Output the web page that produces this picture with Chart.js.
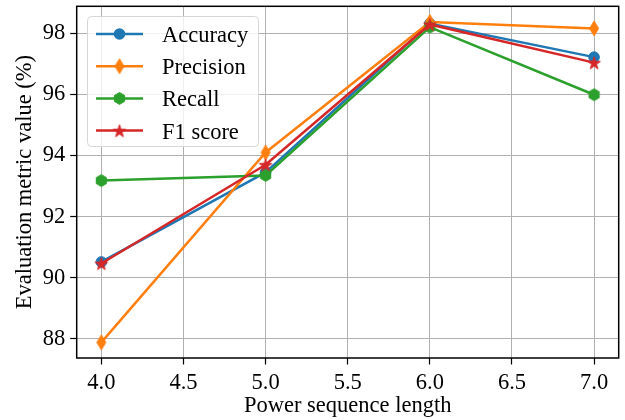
<!DOCTYPE html>
<html>
<head>
<meta charset="utf-8">
<script src="https://cdn.jsdelivr.net/npm/chart.js@4.4.0/dist/chart.umd.min.js"></script>
<style>
  html, body { margin: 0; padding: 0; background: #fff; }
  #wrap { width: 625px; height: 420px; }
</style>
</head>
<body>
<div id="wrap"><canvas id="metricsChart" width="625" height="420"></canvas></div>
<script>
const seqLengths = [4, 5, 6, 7];
const accuracy = [90.52, 93.45, 98.32, 97.22];
const precision = [87.89, 94.1, 98.37, 98.16];
const recall = [93.18, 93.35, 98.2, 95.99];
const f1Score = [90.47, 93.7, 98.29, 97.04];
const xTicks = [4.0, 4.5, 5.0, 5.5, 6.0, 6.5, 7.0];
const yTicks = [88, 90, 92, 94, 96, 98];

const FONT = "'Liberation Serif', 'Times New Roman', serif";
const FS = 22.5;

// matplotlib-like markers
function makeMarker(w, h, color, drawPath) {
  const c = document.createElement("canvas");
  c.width = w;
  c.height = h;
  const g = c.getContext("2d");
  g.fillStyle = color;
  g.strokeStyle = color;
  g.lineWidth = 1;
  g.beginPath();
  drawPath(g, w / 2, h / 2);
  g.closePath();
  g.fill();
  g.stroke();
  return c;
}

const thinDiamond = makeMarker(12, 17, "#ff7f0e", (g, cx, cy) => {
  g.moveTo(cx, cy - 7.4);
  g.lineTo(cx + 4.5, cy);
  g.lineTo(cx, cy + 7.4);
  g.lineTo(cx - 4.5, cy);
});

const hexagon = makeMarker(15, 15, "#2ca02c", (g, cx, cy) => {
  const r = 5.9;
  for (let i = 0; i < 6; i++) {
    const a = -Math.PI / 2 + i * Math.PI / 3;
    const px = cx + r * Math.cos(a);
    const py = cy + r * Math.sin(a);
    if (i === 0) g.moveTo(px, py); else g.lineTo(px, py);
  }
});

const filledStar = makeMarker(16, 16, "#d62728", (g, cx, cy) => {
  const ro = 6.6, ri = ro * 0.382;
  for (let i = 0; i < 10; i++) {
    const r = i % 2 === 0 ? ro : ri;
    const a = -Math.PI / 2 + i * Math.PI / 5;
    const px = cx + r * Math.cos(a);
    const py = cy + r * Math.sin(a) + 0.8;
    if (i === 0) g.moveTo(px, py); else g.lineTo(px, py);
  }
});

function toPoints(values) {
  return seqLengths.map((x, i) => ({ x: x, y: values[i] }));
}

const frameAndLegend = {
  id: "frameAndLegend",
  afterDatasetsDraw(chart) {
    const { ctx, chartArea } = chart;
    ctx.save();
    // axes frame (all four spines)
    ctx.strokeStyle = "#000";
    ctx.lineWidth = 1.5;
    ctx.strokeRect(chartArea.left, chartArea.top, chartArea.right - chartArea.left, chartArea.bottom - chartArea.top);

    // legend box, upper left inside the plot
    const bx = 87.5, by = 16.5, bw = 171, bh = 130, rad = 4;
    ctx.beginPath();
    ctx.moveTo(bx + rad, by);
    ctx.arcTo(bx + bw, by, bx + bw, by + bh, rad);
    ctx.arcTo(bx + bw, by + bh, bx, by + bh, rad);
    ctx.arcTo(bx, by + bh, bx, by, rad);
    ctx.arcTo(bx, by, bx + bw, by, rad);
    ctx.closePath();
    ctx.fillStyle = "rgba(255,255,255,0.8)";
    ctx.fill();
    ctx.strokeStyle = "#d6d6d6";
    ctx.lineWidth = 1;
    ctx.stroke();

    ctx.font = FS + "px " + FONT;
    ctx.textBaseline = "alphabetic";
    ctx.textAlign = "left";
    chart.data.datasets.forEach((ds, i) => {
      const y = 34 + i * 32.2;
      ctx.strokeStyle = ds.borderColor;
      ctx.lineWidth = ds.borderWidth;
      ctx.beginPath();
      ctx.moveTo(96, y);
      ctx.lineTo(143, y);
      ctx.stroke();
      if (ds.pointStyle === "circle") {
        ctx.fillStyle = ds.pointBackgroundColor;
        ctx.beginPath();
        ctx.arc(119.5, y, ds.pointRadius + 0.5, 0, Math.PI * 2);
        ctx.fill();
      } else {
        Chart.helpers.drawPoint(ctx, {
          pointStyle: ds.pointStyle,
          radius: ds.pointRadius,
          rotation: 0,
          borderWidth: 0
        }, 119.5, y);
      }
      ctx.fillStyle = "#000";
      ctx.fillText(ds.label, 162, y + 8);
    });
    ctx.restore();
  }
};

const ctx = document.getElementById("metricsChart").getContext("2d");

new Chart(ctx, {
  type: "line",
  data: {
    datasets: [
      {
        label: "Accuracy",
        data: toPoints(accuracy),
        borderColor: "#1f77b4",
        backgroundColor: "#1f77b4",
        pointBackgroundColor: "#1f77b4",
        pointBorderColor: "#1f77b4",
        pointStyle: "circle",
        pointRadius: 5.3,
        pointBorderWidth: 1,
        borderWidth: 2.5,
        order: 3
      },
      {
        label: "Precision",
        data: toPoints(precision),
        borderColor: "#ff7f0e",
        backgroundColor: "#ff7f0e",
        pointStyle: thinDiamond,
        pointRadius: 6,
        pointBorderWidth: 0,
        borderWidth: 2.5,
        order: 2
      },
      {
        label: "Recall",
        data: toPoints(recall),
        borderColor: "#2ca02c",
        backgroundColor: "#2ca02c",
        pointStyle: hexagon,
        pointRadius: 6,
        pointBorderWidth: 0,
        borderWidth: 2.5,
        order: 1
      },
      {
        label: "F1 score",
        data: toPoints(f1Score),
        borderColor: "#d62728",
        backgroundColor: "#d62728",
        pointStyle: filledStar,
        pointRadius: 6,
        pointBorderWidth: 0,
        borderWidth: 2.5,
        order: 0
      }
    ]
  },
  options: {
    responsive: false,
    animation: false,
    events: [],
    layout: { padding: { top: 5, right: 5.5, left: 0, bottom: 0 } },
    plugins: {
      legend: { display: false },
      tooltip: { enabled: false }
    },
    elements: { line: { tension: 0, fill: false } },
    scales: {
      x: {
        type: "linear",
        min: 3.85,
        max: 7.15,
        afterBuildTicks: (axis) => { axis.ticks = xTicks.map(v => ({ value: v })); },
        afterFit: (axis) => {
          axis.height = 62;
          axis.paddingLeft = 0;
          axis.paddingRight = 0;
        },
        ticks: {
          color: "#000",
          font: { family: FONT, size: FS },
          padding: 5,
          maxRotation: 0,
          callback: (v) => Number(v).toFixed(1)
        },
        grid: { color: "#b0b0b0", lineWidth: 1, tickLength: 6.5, tickColor: "#000", tickWidth: 1.2 },
        border: { display: false },
        title: {
          display: true,
          text: "Power sequence length",
          color: "#000",
          font: { family: FONT, size: FS },
          padding: { top: 0, bottom: 0 }
        }
      },
      y: {
        type: "linear",
        min: 87.377,
        max: 98.883,
        afterBuildTicks: (axis) => { axis.ticks = yTicks.map(v => ({ value: v })); },
        afterFit: (axis) => {
          axis.width = 76.7;
          axis.paddingTop = 0;
          axis.paddingBottom = 0;
        },
        ticks: {
          color: "#000",
          font: { family: FONT, size: FS },
          padding: 5,
          callback: (v) => String(v)
        },
        grid: { color: "#b0b0b0", lineWidth: 1, tickLength: 6.5, tickColor: "#000", tickWidth: 1.2 },
        border: { display: false },
        title: {
          display: true,
          text: "Evaluation metric value (%)",
          color: "#000",
          font: { family: FONT, size: FS },
          padding: { top: 12, bottom: 0 }
        }
      }
    }
  },
  plugins: [frameAndLegend]
});
</script>
</body>
</html>
